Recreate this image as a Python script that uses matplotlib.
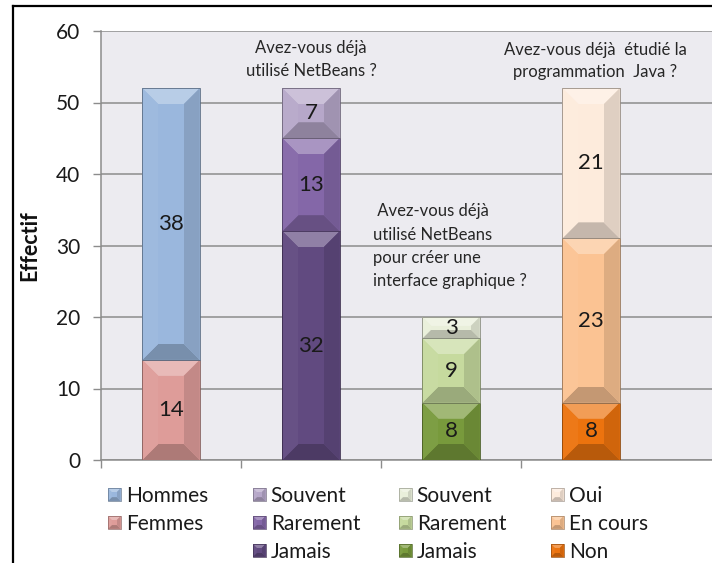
import matplotlib.pyplot as plt
import numpy as np
from matplotlib.patches import Polygon
from matplotlib.lines import Line2D
from matplotlib.colors import to_rgb
from matplotlib.legend_handler import HandlerBase

plt.rcParams['font.family'] = ['Lato', 'DejaVu Sans']

# stacks, listed bottom to top
seg_names = [
    ['Femmes', 'Hommes'],
    ['Jamais', 'Rarement', 'Souvent'],
    ['Jamais', 'Rarement', 'Souvent'],
    ['Non', 'En cours', 'Oui'],
]
seg_values = [
    [14, 38],
    [32, 13, 7],
    [8, 9, 3],
    [8, 23, 21],
]
seg_colors = [
    ['#DE9C99', '#9AB7DD'],
    ['#614A80', '#8467A8', '#B6A7C9'],
    ['#789A3C', '#C6DA9E', '#E9EFDA'],
    ['#EC730E', '#FBC393', '#FDEBDC'],
]
questions = [
    None,
    'Avez-vous déjà\nutilisé NetBeans ?',
    ' Avez-vous déjà\nutilisé NetBeans\npour créer une\ninterface graphique ?',
    'Avez-vous déjà  étudié la\nprogrammation  Java ?',
]
y_ticks = [0, 10, 20, 30, 40, 50, 60]


def lighten(c, f):
    c = np.array(to_rgb(c))
    return tuple(c + (1 - c) * f)


def darken(c, f):
    c = np.array(to_rgb(c))
    return tuple(c * (1 - f))


def bevel_polys(x0, x1, y0, y1, dx, dy, color, side=1.0):
    # outer corners and the inset face, shaded like a lit bevel
    o = [(x0, y0), (x1, y0), (x1, y1), (x0, y1)]
    i = [(x0 + dx, y0 + dy), (x1 - dx, y0 + dy), (x1 - dx, y1 - dy), (x0 + dx, y1 - dy)]
    return [
        ([o[0], o[1], o[2], o[3]], color),
        ([o[3], o[2], i[2], i[3]], lighten(color, 0.3)),
        ([o[0], o[1], i[1], i[0]], darken(color, 0.22)),
        ([o[0], i[0], i[3], o[3]], lighten(color, 0.04 * side)),
        ([o[1], o[2], i[2], i[1]], darken(color, 0.12 * side)),
        (i, color),
    ]


class BevelHandler(HandlerBase):
    def create_artists(self, legend, orig_handle, xdescent, ydescent,
                       width, height, fontsize, trans):
        s = min(width, height)
        x0, y0 = -xdescent, -ydescent + (height - s) / 2
        d = s * 0.3
        arts = []
        for pts, col in bevel_polys(x0, x0 + s, y0, y0 + s, d, d, orig_handle.get_facecolor()):
            arts.append(Polygon(pts, closed=True, facecolor=col, edgecolor='none', transform=trans))
        arts.append(Polygon([(x0, y0), (x0 + s, y0), (x0 + s, y0 + s), (x0, y0 + s)], closed=True,
                            facecolor='none', edgecolor=darken(orig_handle.get_facecolor(), 0.35),
                            lw=0.5, transform=trans))
        return arts


W, H = 712, 563
fig = plt.figure(figsize=(W / 100, H / 100), dpi=100)
ax = fig.add_axes([101 / W, 103 / H, (W - 101) / W, (460 - 31) / H])
ax.set_facecolor('#ECEBF0')

ax.set_xlim(-0.5, 3.864)
ax.set_ylim(0, 60)
ax.set_yticks(y_ticks)
ax.set_xticks([-0.5, 0.5, 1.5, 2.5])
ax.set_xticklabels([])
ax.tick_params(axis='y', length=6, width=1, color='#8C8C8C', labelsize=15, pad=9, labelcolor='#1A1A1A')
ax.tick_params(axis='x', length=6, width=1, color='#8C8C8C')
ax.yaxis.grid(True, color='#8C8C8C', lw=1.1)
ax.set_axisbelow(True)
for side in ['top', 'right']:
    ax.spines[side].set_visible(False)
for side in ['left', 'bottom']:
    ax.spines[side].set_color('#8C8C8C')
    ax.spines[side].set_linewidth(1.1)

ax.set_ylabel('Effectif', fontsize=15.5, fontweight='bold', labelpad=11, color='#111111')

# pixels per data unit, used to keep the bevel square on screen
sx = (W - 101) / (3.864 + 0.5)
sy = (460 - 31) / 60
bar_w = 0.41
bevel_px = 16

for k, (vals, cols) in enumerate(zip(seg_values, seg_colors)):
    bottom = 0
    for v, col in zip(vals, cols):
        x0, x1 = k - bar_w / 2, k + bar_w / 2
        y0, y1 = bottom, bottom + v
        d = min(bevel_px, bar_w * sx / 2, v * sy / 2.4)
        for pts, c in bevel_polys(x0, x1, y0, y1, d / sx, d / sy, col):
            ax.add_patch(Polygon(pts, closed=True, facecolor=c, edgecolor='none', zorder=3))
        ax.add_patch(Polygon([(x0, y0), (x1, y0), (x1, y1), (x0, y1)], closed=True,
                             facecolor='none', edgecolor=darken(col, 0.4), lw=0.6, zorder=4))
        ax.text(k, bottom + v / 2, str(v), ha='center', va='center', fontsize=16,
                color='#1A1A1A', zorder=5)
        bottom += v

# question captions
ax.text(1, 56.0, questions[1], ha='center', va='center', fontsize=12,
        color='#262626', linespacing=1.5)
ax.text(1.44, 29.9, questions[2], ha='left', va='center', fontsize=12,
        color='#262626', linespacing=1.55)
ax.text(3.03, 55.8, questions[3], ha='center', va='center', fontsize=12,
        color='#262626', linespacing=1.45)

# one legend column per stack, top segment first
leg_x = [108, 253, 399, 551]
handler = BevelHandler()
for k, (names, cols) in enumerate(zip(seg_names, seg_colors)):
    handles = [plt.Rectangle((0, 0), 1, 1, facecolor=c) for c in cols[::-1]]
    leg = fig.legend(handles, names[::-1], loc='upper left',
                     bbox_to_anchor=(leg_x[k] / W, 1 - 486 / H),
                     frameon=False, fontsize=15, borderpad=0, borderaxespad=0,
                     handlelength=0.6, handleheight=0.6, handletextpad=0.25,
                     labelspacing=0.38, handler_map={plt.Rectangle: handler})
    for t in leg.get_texts():
        t.set_color('#1A1A1A')

# frame lines along the left and top edges
fig.add_artist(Line2D([13 / W, 13 / W], [0, 1 - 6 / H], color='black', lw=1.6))
fig.add_artist(Line2D([13 / W, 1], [1 - 6 / H, 1 - 6 / H], color='black', lw=1.6))

fig.savefig('out.png', dpi=100)
